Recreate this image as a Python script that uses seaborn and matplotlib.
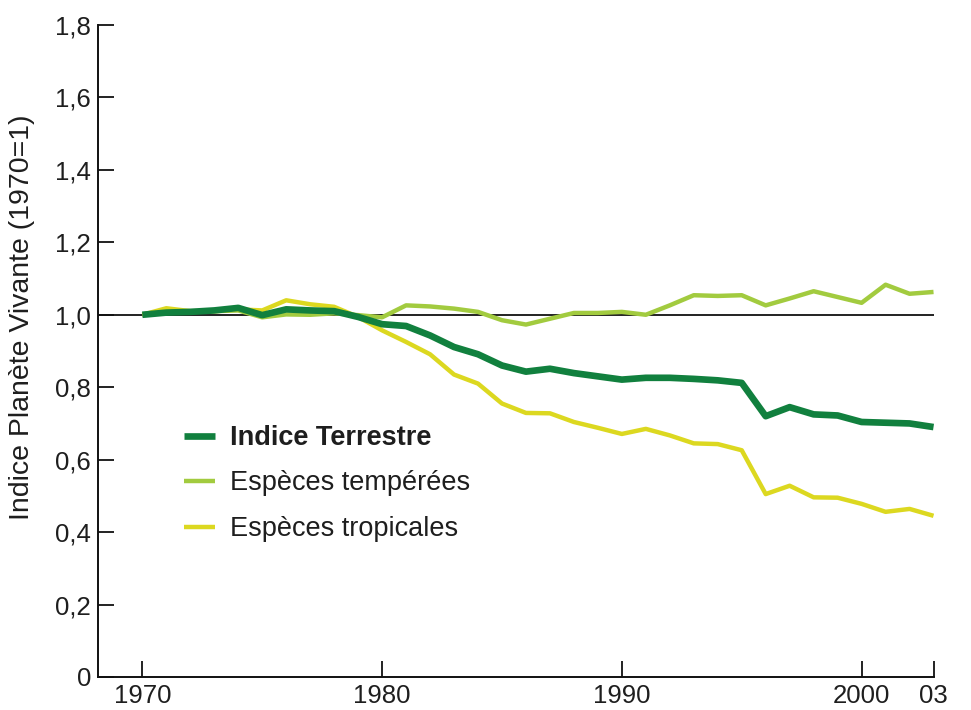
import numpy as np
import pandas as pd
import matplotlib
matplotlib.use("Agg")
import matplotlib.pyplot as plt
import seaborn as sns

years = list(range(1970, 2004))
terrestre = [1.000, 1.006, 1.008, 1.012, 1.019, 0.999, 1.015, 1.012, 1.010, 0.994,
             0.974, 0.969, 0.943, 0.911, 0.891, 0.860, 0.843, 0.851, 0.839, 0.830,
             0.821, 0.826, 0.826, 0.823, 0.819, 0.812, 0.720, 0.745, 0.725, 0.722,
             0.704, 0.702, 0.700, 0.690]
temperees = [1.000, 1.010, 1.010, 1.010, 1.012, 0.993, 1.001, 1.000, 1.004, 0.999,
             0.993, 1.026, 1.023, 1.017, 1.008, 0.985, 0.973, 0.989, 1.005, 1.005,
             1.008, 1.000, 1.026, 1.054, 1.052, 1.054, 1.026, 1.045, 1.065, 1.049,
             1.033, 1.083, 1.058, 1.063]
tropicales = [1.000, 1.018, 1.010, 1.010, 1.015, 1.012, 1.040, 1.029, 1.022, 0.994,
              0.957, 0.925, 0.891, 0.835, 0.810, 0.755, 0.729, 0.728, 0.704, 0.688,
              0.671, 0.685, 0.667, 0.645, 0.643, 0.626, 0.505, 0.528, 0.496, 0.495,
              0.478, 0.456, 0.464, 0.445]

series_names = ["Indice Terrestre", "Espèces tempérées", "Espèces tropicales"]
series_values = [terrestre, temperees, tropicales]
colors = ["#11803e", "#a2cb3f", "#dcd820"]
widths = [4.8, 3.2, 3.2]

yticks = [0, 0.2, 0.4, 0.6, 0.8, 1.0, 1.2, 1.4, 1.6, 1.8]
ytick_labels = ["0", "0,2", "0,4", "0,6", "0,8", "1,0", "1,2", "1,4", "1,6", "1,8"]
xticks = [1970, 1980, 1990, 2000, 2003]
xtick_labels = ["1970", "1980", "1990", "2000", "03"]

df = pd.DataFrame({
    "year": years * 3,
    "value": terrestre + temperees + tropicales,
    "series": sum([[n] * len(years) for n in series_names], []),
})

sns.set_theme(style="white")
plt.rcParams['font.family'] = ['Liberation Sans', 'DejaVu Sans']
txt = "#1e1e1e"

fig = plt.figure(figsize=(9.71, 7.10), dpi=100)
ax_l, ax_r, ax_t, ax_b = 98, 934, 25, 677
ax = fig.add_axes([ax_l/971, 1 - ax_b/710, (ax_r-ax_l)/971, (ax_b-ax_t)/710])

ax.axhline(1.0, color="#111111", lw=1.3, zorder=1)

order = [1, 2, 0]
for i in order:
    sub = df[df["series"] == series_names[i]]
    sns.lineplot(data=sub, x="year", y="value", ax=ax, color=colors[i],
                 lw=widths[i], label=series_names[i], zorder=3 if i == 0 else 2,
                 solid_joinstyle="round", solid_capstyle="butt")

ax.set_xlim(1968.15, 2003.02)
ax.set_ylim(0, 1.8)
ax.set_xticks(xticks)
ax.set_xticklabels(xtick_labels)
ax.set_yticks(yticks)
ax.set_yticklabels(ytick_labels)
ax.set_xlabel("")
ax.set_ylabel("Indice Planète Vivante (1970=1)", fontsize=20.5, color=txt)
ax.yaxis.set_label_coords((35 - ax_l) / (ax_r - ax_l), (ax_b - 317) / (ax_b - ax_t))

for s in ["top", "right"]:
    ax.spines[s].set_visible(False)
for s in ["left", "bottom"]:
    ax.spines[s].set_color("#111111")
    ax.spines[s].set_linewidth(1.4)

ax.tick_params(axis="both", direction="in", length=11.5, width=1.3, color="#111111",
               labelsize=18.5, labelcolor=txt, bottom=True, left=True)
ax.tick_params(axis="x", pad=5)
ax.tick_params(axis="y", pad=5)

handles, labels = ax.get_legend_handles_labels()
hmap = dict(zip(labels, handles))
leg = ax.legend([hmap[n] for n in series_names], series_names,
                loc="upper left", bbox_to_anchor=(184/971, 1 - 425/710),
                bbox_transform=fig.transFigure, frameon=False, fontsize=19.5,
                handlelength=1.15, handletextpad=0.55, labelspacing=0.72,
                borderpad=0, borderaxespad=0)
for t in leg.get_texts():
    t.set_color(txt)
leg.get_texts()[0].set_fontweight("bold")

fig.savefig("out.png", dpi=100, facecolor="white")
